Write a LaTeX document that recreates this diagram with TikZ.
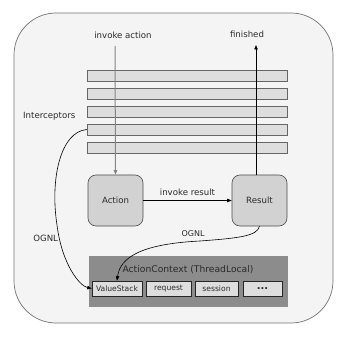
\documentclass[tikz,border=0pt]{standalone}
\usepackage{fontspec}
\setmainfont{DejaVu Sans}
\usetikzlibrary{arrows.meta}
\definecolor{outerfill}{HTML}{F4F4F4}
\definecolor{barfill}{HTML}{DEDEDE}
\definecolor{boxfill}{HTML}{D2D2D2}
\definecolor{ctxfill}{HTML}{8C8C8C}
\definecolor{txt}{HTML}{2A2A2A}
\begin{document}
\begin{tikzpicture}[x=1pt,y=-1pt,
  font=\fontsize{8.6}{10}\selectfont, text=txt,
  bar/.style={draw=black!60, fill=barfill, line width=0.6pt, minimum width=200pt, minimum height=11pt, inner sep=0pt},
  actbox/.style={draw=black!70, fill=boxfill, rounded corners=8pt, line width=0.6pt, minimum width=55pt, minimum height=51pt, inner sep=0pt},
  cellbox/.style={draw=black!85, fill=barfill, line width=0.6pt, minimum height=15pt, inner sep=0pt, font=\fontsize{7.6}{9}\selectfont},
  arr/.style={-{Triangle[length=4.5pt,width=3.5pt]}, line width=0.7pt},
  lbl/.style={inner sep=1pt}]
\useasboundingbox (0,0) rectangle (346,337);
\node[draw=black!55, fill=outerfill, rounded corners=42pt, line width=0.7pt, minimum width=319pt, minimum height=310pt, inner sep=0pt] (outer) at (173.5,168) {};
\node[bar] (b1) at (187,75.5) {};
\node[bar] (b2) at (187,93.5) {};
\node[bar] (b3) at (187,111.5) {};
\node[bar] (b4) at (187,129.5) {};
\node[bar] (b5) at (187,147.5) {};
\node[lbl, anchor=west] (icp) at (22,116) {Interceptors};
\node[lbl] (ia) at (123,35) {invoke action};
\node[lbl] (fin) at (247,34) {finished};
\node[actbox] (act) at (115.5,200.5) {Action};
\node[actbox] (res) at (259.5,200.5) {Result};
\node[draw=none, fill=ctxfill, minimum width=199pt, minimum height=51pt, inner sep=0pt] (ctx) at (188.5,281.5) {};
\node[lbl, font=\fontsize{9.2}{11}\selectfont] (ctxl) at (188,269.5) {ActionContext (ThreadLocal)};
\node[cellbox, minimum width=50pt] (vs) at (117,288.5) {ValueStack};
\node[cellbox, minimum width=45pt] (rq) at (168.5,288.5) {request};
\node[cellbox, minimum width=43pt] (ss) at (216.5,288.5) {session};
\node[cellbox, minimum width=39pt, font=\fontsize{10}{11}\selectfont] (dd) at (262.5,288.5) {\textbf{...}};
\coordinate (iatop) at (115,46);
\coordinate (fintop) at (256,45);
\draw[arr, draw=black!48, line width=1pt] (iatop) -- (act.north);
\draw[arr] (res.north -| fintop) -- (fintop);
\draw[arr] (act.east) -- node[lbl, above=4pt] (ir) {invoke result} (res.east -| res.west);
\draw[arr, line width=0.6pt] (b4.west) .. controls (60,132) and (50,180) .. (57,225) .. controls (62,265) and (80,286) .. node[pos=0.12, lbl, left=0pt] (og1) {OGNL} (vs.west);
\draw[arr, line width=0.6pt] (res.south) .. controls (257,236) and (240,238) .. (200,241) .. controls (140,244) and (120,258) .. node[pos=0.04, lbl, above=3pt, font=\fontsize{8}{9}\selectfont] (og2) {OGNL} (vs.north);
\end{tikzpicture}
\end{document}
